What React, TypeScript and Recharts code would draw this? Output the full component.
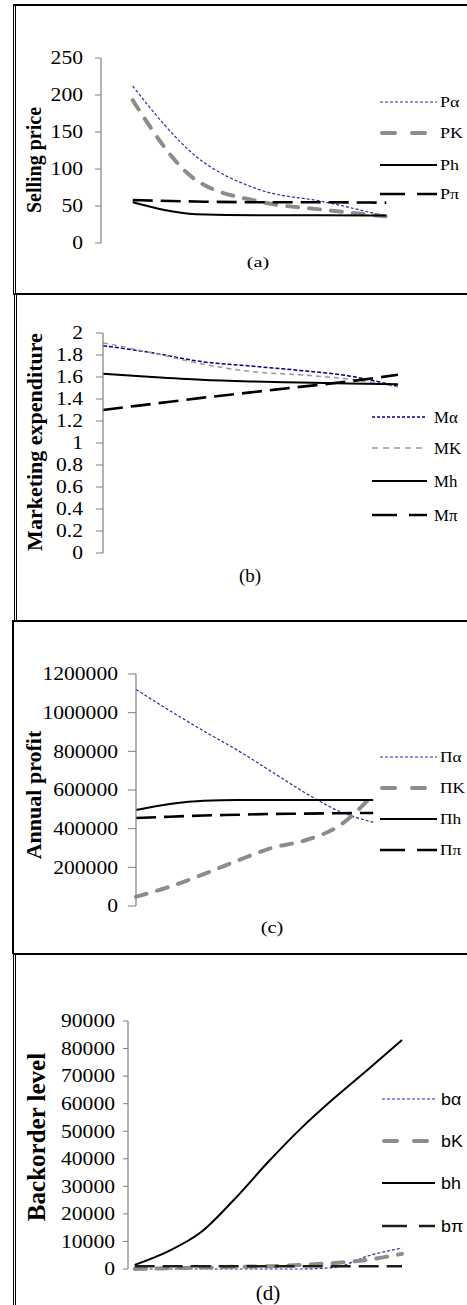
import { LineChart, Line, XAxis, YAxis, Legend } from 'recharts';

// (a) selling price
const priceX = [0, 1, 2, 3, 4];
const priceAlpha = [212, 117, 72, 56, 36];
const priceKappa = [193, 85, 56, 45, 36];
const priceH = [55, 39, 37.5, 37.5, 37];
const pricePi = [58, 56, 55, 55, 54.5];
const priceTicks = [0, 50, 100, 150, 200, 250];
const priceNames = ['Pα', 'PK', 'Ph', 'Pπ'];

// (b) marketing expenditure
const mktX = [0, 1, 2, 3, 4, 5, 6];
const mktAlpha = [1.885, 1.82, 1.74, 1.7, 1.66, 1.61, 1.515];
const mktKappa = [1.91, 1.82, 1.72, 1.65, 1.62, 1.58, 1.51];
const mktH = [1.63, 1.6, 1.575, 1.56, 1.55, 1.54, 1.535];
const mktPi = [1.3, 1.355, 1.41, 1.46, 1.51, 1.56, 1.62];
const mktTicks = [0, 0.2, 0.4, 0.6, 0.8, 1, 1.2, 1.4, 1.6, 1.8, 2];
const mktNames = ['Mα', 'MK', 'Mh', 'Mπ'];

// (c) annual profit
const profitX = [0, 1, 2, 3, 4, 5, 6, 7];
const profitAlpha = [1120000, 1010000, 905000, 805000, 695000, 585000, 490000, 433000];
const profitKappa = [48000, 100000, 165000, 235000, 300000, 340000, 415000, 575000];
const profitH = [497000, 528000, 545000, 548000, 548000, 548000, 548000, 548000];
const profitPi = [455000, 462000, 468000, 472000, 476000, 478000, 480000, 481000];
const profitTicks = [0, 200000, 400000, 600000, 800000, 1000000, 1200000];
const profitNames = ['Πα', 'ΠK', 'Πh', 'Ππ'];

// (d) backorder level
const boX = [0, 1, 2, 3, 4, 5, 6, 7, 8];
const boAlpha = [0, 0, 0, 0, 0, 0, 600, 4800, 7600];
const boKappa = [0, 300, 500, 800, 1000, 1500, 2200, 3400, 5500];
const boH = [1500, 6400, 13500, 25500, 38900, 51300, 62300, 72600, 83100];
const boPi = [1000, 1000, 1000, 1000, 1000, 1000, 1000, 1000, 1000];
const boTicks = [0, 10000, 20000, 30000, 40000, 50000, 60000, 70000, 80000, 90000];
const boNames = ['bα', 'bK', 'bh', 'bπ'];

const SERIF = "'Liberation Serif', 'Times New Roman', serif";
const SANS = "'Liberation Sans', Arial, sans-serif";

const toRows = (xs: number[], a: number[], k: number[], h: number[], p: number[]) =>
  xs.map((x, i) => ({ x, a: a[i], k: k[i], h: h[i], p: p[i] }));

const baseSeries = (thinGray = false, piColor = '#000') => [
  { key: 'a', stroke: thinGray ? '#00008b' : '#2a2aa5', width: thinGray ? 1.5 : 1.2, dash: thinGray ? '4 2' : '3 2', cap: 'butt', legendDash: '3 2' },
  thinGray
    ? { key: 'k', stroke: '#999999', width: 1.5, dash: '5 4', cap: 'butt', legendDash: '6 5' }
    : { key: 'k', stroke: '#8c8c8c', width: 4, dash: '11 11', cap: 'round', legendDash: '13 17' },
  { key: 'h', stroke: '#000', width: 2, dash: undefined, cap: 'butt', legendDash: undefined },
  { key: 'p', stroke: piColor, width: 2.6, dash: '20 8', cap: 'butt', legendDash: '25 12' },
];

const panels = [
  {
    top: 0, height: 294, margin: { top: 58, right: 49, bottom: 51, left: 0 },
    yWidth: 101, tickSize: 6, tickMargin: 12, yDomain: [0, 250], yTicks: priceTicks, xDomain: [-0.5, 4.5],
    rows: toRows(priceX, priceAlpha, priceKappa, priceH, pricePi), names: priceNames, series: baseSeries(),
    yLabel: { text: 'Selling price', x: 34, y: 160, size: 20 },
    caption: { text: '(a)', x: 258, y: 262, size: 15, sx: 1.35 },
    legend: { x1: 380, x2: 437, tx: 440, rows: [102, 133, 165, 194], font: SERIF, size: 15, sx: 1.2 },
    fmt: (v: number) => String(v),
  },
  {
    top: 294, height: 326, margin: { top: 39, right: 69, bottom: 67, left: 0 },
    yWidth: 103, tickSize: 7, tickMargin: 13, yDomain: [0, 2], yTicks: mktTicks, xDomain: [0, 6],
    rows: toRows(mktX, mktAlpha, mktKappa, mktH, mktPi), names: mktNames, series: baseSeries(true),
    yLabel: { text: 'Marketing expenditure', x: 34.5, y: 148, size: 22 },
    caption: { text: '(b)', x: 250, y: 281, size: 19, sx: 1 },
    legend: { x1: 372, x2: 427, tx: 434, rows: [123, 154, 187, 221], font: SERIF, size: 16, sx: 1.05 },
    fmt: (v: number) => String(Math.round(v * 10) / 10),
  },
  {
    top: 620, height: 334, margin: { top: 54, right: 60, bottom: 48, left: 0 },
    yWidth: 136, tickSize: 8, tickMargin: 10, yDomain: [0, 1200000], yTicks: profitTicks, xDomain: [0, 8],
    rows: toRows(profitX, profitAlpha, profitKappa, profitH, profitPi), names: profitNames, series: baseSeries(),
    yLabel: { text: 'Annual profit', x: 33.5, y: 175, size: 22 },
    caption: { text: '(c)', x: 272, y: 307, size: 17, sx: 1.2 },
    legend: { x1: 380, x2: 437, tx: 440, rows: [137, 168, 199, 230], font: SERIF, size: 15, sx: 1.15 },
    fmt: (v: number) => String(v),
  },
  {
    top: 954, height: 351, margin: { top: 67, right: 65, bottom: 36, left: 0 },
    yWidth: 128, tickSize: 5, tickMargin: 8, yDomain: [0, 90000], yTicks: boTicks, xDomain: [-0.2, 8],
    rows: toRows(boX, boAlpha, boKappa, boH, boPi), names: boNames, series: baseSeries(false, '#1e1e14'),
    yLabel: { text: 'Backorder level', x: 36.5, y: 183, size: 25 },
    caption: { text: '(d)', x: 268, y: 339, size: 21, sx: 1 },
    legend: { x1: 382, x2: 435, tx: 441, rows: [145, 187, 229, 272], font: SANS, size: 17, sx: 1.05 },
    fmt: (v: number) => String(v),
  },
];

// frame lines around the four sub-figures
const frame = [
  { left: 13, top: 4, width: 454, height: 2 },
  { left: 13, top: 5, width: 1, height: 289 },
  { left: 15, top: 5, width: 1, height: 289 },
  { left: 13, top: 293, width: 454, height: 2 },
  { left: 14, top: 294, width: 1, height: 326 },
  { left: 16, top: 294, width: 1, height: 326 },
  { left: 12, top: 620, width: 455, height: 2 },
  { left: 12, top: 620, width: 2, height: 334 },
  { left: 13, top: 953, width: 454, height: 2 },
  { left: 13, top: 954, width: 1, height: 351 },
  { left: 15, top: 954, width: 1, height: 351 },
];

function YTick({ x, y, payload, fmt }: any) {
  return (
    <g transform={`translate(${x},${y}) scale(1.2,1)`}>
      <text x={0} y={0} dy="0.35em" textAnchor="end" fontFamily={SERIF} fontSize={18} fill="#000">
        {fmt(payload.value)}
      </text>
    </g>
  );
}

function LegendBox({ p, top }: any) {
  const lg = p.legend;
  const h = lg.rows[3] - lg.rows[0] + 40;
  return (
    <svg width={107} height={h} style={{ display: 'block' }}>
      {p.series.map((s: any, i: number) => {
        const y = lg.rows[i] - top;
        return (
          <g key={s.key}>
            <line
              x1={lg.x1 - 360 + (s.cap === 'round' ? 2 : 0)}
              x2={lg.x2 - 360}
              y1={y}
              y2={y}
              stroke={s.stroke}
              strokeWidth={s.width}
              strokeDasharray={s.legendDash}
              strokeLinecap={s.cap}
            />
            <g transform={`translate(${lg.tx - 360},${y}) scale(${lg.sx},1)`}>
              <text x={0} y={0} dy="0.35em" fontFamily={lg.font} fontSize={lg.size} fill="#000">
                {p.names[i]}
              </text>
            </g>
          </g>
        );
      })}
    </svg>
  );
}

// y-axis title plus the sub-figure caption under the plot
function AxisTexts({ p }: any) {
  const { yLabel, caption } = p;
  return (
    <g>
      <text
        x={yLabel.x}
        y={yLabel.y}
        dy="0.35em"
        transform={`rotate(-90 ${yLabel.x} ${yLabel.y})`}
        textAnchor="middle"
        fontFamily={SERIF}
        fontWeight="bold"
        fontSize={yLabel.size}
        fill="#000"
      >
        {yLabel.text}
      </text>
      <g transform={`translate(${caption.x},${caption.y}) scale(${caption.sx},1)`}>
        <text x={0} y={0} dy="0.35em" textAnchor="middle" fontFamily={SERIF} fontSize={caption.size} fill="#000">
          {caption.text}
        </text>
      </g>
    </g>
  );
}

function Panel({ p }: any) {
  const legendTop = p.legend.rows[0] - 20;
  const legendHeight = p.legend.rows[3] - p.legend.rows[0] + 40;
  return (
    <div style={{ position: 'absolute', left: 0, top: p.top }}>
      <LineChart width={467} height={p.height} data={p.rows} margin={p.margin}>
        <XAxis
          type="number"
          dataKey="x"
          domain={p.xDomain}
          tick={false}
          tickLine={false}
          height={0}
          axisLine={{ stroke: '#808080', strokeWidth: 1.2 }}
        />
        <YAxis
          type="number"
          domain={p.yDomain}
          ticks={p.yTicks}
          interval={0}
          width={p.yWidth}
          tickSize={p.tickSize}
          tickMargin={p.tickMargin}
          axisLine={{ stroke: '#808080', strokeWidth: 1.2 }}
          tickLine={{ stroke: '#808080' }}
          tick={(t: any) => <YTick {...t} fmt={p.fmt} />}
          label={() => <AxisTexts p={p} />}
        />
        <Legend
          layout="vertical"
          align="center"
          verticalAlign="middle"
          wrapperStyle={{ left: 360, top: legendTop, width: 107, height: legendHeight }}
          content={() => <LegendBox p={p} top={legendTop} />}
        />
        {p.series.map((s: any, i: number) => (
          <Line
            key={s.key}
            type="monotone"
            dataKey={s.key}
            name={p.names[i]}
            stroke={s.stroke}
            strokeWidth={s.width}
            strokeDasharray={s.dash}
            strokeLinecap={s.cap}
            dot={false}
            activeDot={false}
            isAnimationActive={false}
          />
        ))}
      </LineChart>
    </div>
  );
}

export default function App() {
  return (
    <div style={{ position: 'absolute', left: 0, top: 0, width: 467, height: 1305, background: '#fff', overflow: 'hidden' }}>
      {panels.map((p, i) => (
        <Panel key={i} p={p} />
      ))}
      {frame.map((f, i) => (
        <div key={i} style={{ position: 'absolute', background: '#000', ...f }} />
      ))}
    </div>
  );
}
